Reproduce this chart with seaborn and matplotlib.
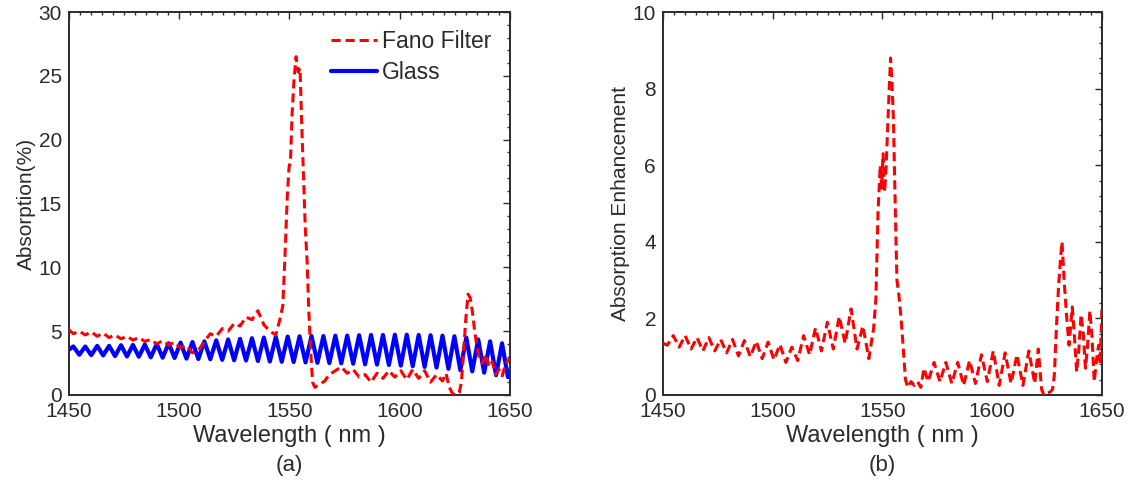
import numpy as np
import pandas as pd
import seaborn as sns
import matplotlib
matplotlib.use("Agg")
import matplotlib.pyplot as plt
from matplotlib.ticker import MultipleLocator

# ---- Absorption of the Fano filter (%) ----
fano_nm = [1450.0, 1452.0, 1454.7, 1457.4, 1460.1, 1462.8, 1465.5, 1468.2, 1470.9, 1473.6,
           1476.3, 1479.0, 1481.7, 1484.4, 1487.1, 1489.8, 1492.5, 1495.2, 1497.9, 1500.6,
           1503.3, 1506.0, 1508.7, 1511.4, 1514.1, 1516.8, 1519.5, 1522.2, 1524.9, 1527.6,
           1530.3, 1533.0, 1535.7, 1538.4, 1541.1, 1543.8, 1545.5, 1547.0, 1548.0, 1549.0,
           1549.8, 1550.5, 1551.2, 1552.0, 1553.0, 1554.0, 1554.8, 1555.6, 1556.4, 1557.2,
           1558.0, 1558.8, 1559.6, 1560.5, 1561.5, 1563.5, 1566.0, 1568.1, 1570.8, 1573.5,
           1576.2, 1578.9, 1581.6, 1584.3, 1587.0, 1589.7, 1592.4, 1595.1, 1597.8, 1600.5,
           1603.2, 1605.9, 1608.6, 1611.3, 1614.0, 1616.7, 1619.4, 1621.0, 1622.5, 1624.0,
           1625.5, 1627.0, 1628.0, 1629.0, 1630.0, 1631.0, 1632.0, 1633.0, 1634.0, 1635.0,
           1636.0, 1637.5, 1639.0, 1640.5, 1642.0, 1643.5, 1645.0, 1646.5, 1648.0, 1650.0]
fano_abs = [5.1, 4.8, 5.0, 4.7, 4.95, 4.6, 4.85, 4.5, 4.7, 4.4,
            4.6, 4.3, 4.5, 4.2, 4.35, 4.0, 4.25, 3.9, 4.15, 3.7,
            3.9, 3.3, 3.5, 4.2, 4.8, 4.6, 5.2, 5.0, 5.6, 5.4,
            6.1, 5.9, 6.6, 5.5, 5.0, 4.7, 5.8, 7.0, 11.0, 15.5,
            17.8, 18.5, 22.0, 24.5, 26.5, 25.3, 25.6, 21.0, 17.0, 13.0,
            10.5, 6.5, 3.5, 1.0, 0.6, 0.8, 1.1, 1.6, 1.9, 2.2,
            1.7, 2.0, 1.4, 1.6, 1.0, 1.7, 1.3, 1.9, 1.4, 1.9,
            1.2, 2.0, 1.3, 1.9, 1.0, 1.6, 1.1, 1.7, 0.6, 0.1,
            0.0, 0.2, 1.0, 3.5, 6.0, 7.9, 7.6, 6.5, 5.0, 3.8,
            3.0, 2.5, 3.2, 2.2, 2.6, 1.6, 2.0, 1.5, 2.4, 2.9]

# ---- Absorption of bare glass (%), fringe maxima and minima ----
glass_nm = [1450.0,
            1452.0, 1454.7, 1457.4, 1460.1, 1462.8, 1465.5, 1468.2, 1470.9, 1473.6, 1476.3,
            1479.0, 1481.7, 1484.4, 1487.1, 1489.8, 1492.5, 1495.2, 1497.9, 1500.6, 1503.3,
            1506.0, 1508.7, 1511.4, 1514.1, 1516.8, 1519.5, 1522.2, 1524.9, 1527.6, 1530.3,
            1533.0, 1535.7, 1538.4, 1541.1, 1543.8, 1546.5, 1549.2, 1551.9, 1554.6, 1557.3,
            1560.0, 1562.7, 1565.4, 1568.1, 1570.8, 1573.5, 1576.2, 1578.9, 1581.6, 1584.3,
            1587.0, 1589.7, 1592.4, 1595.1, 1597.8, 1600.5, 1603.2, 1605.9, 1608.6, 1611.3,
            1614.0, 1616.7, 1619.4, 1622.1, 1624.8, 1627.5, 1630.2, 1632.9, 1635.6, 1638.3,
            1641.0, 1643.7, 1646.4, 1649.1, 1650.0]
glass_abs = [3.55,
             3.80, 3.15, 3.80, 3.12, 3.85, 3.10, 3.85, 3.05, 3.90, 3.02,
             3.92, 3.00, 3.95, 2.95, 4.00, 2.92, 4.05, 2.90, 4.10, 2.85,
             4.15, 2.82, 4.20, 2.80, 4.28, 2.75, 4.35, 2.72, 4.40, 2.70,
             4.45, 2.66, 4.50, 2.62, 4.55, 2.60, 4.58, 2.58, 4.60, 2.55,
             4.62, 2.52, 4.62, 2.50, 4.65, 2.48, 4.65, 2.45, 4.68, 2.40,
             4.70, 2.38, 4.70, 2.35, 4.72, 2.30, 4.72, 2.25, 4.70, 2.20,
             4.68, 2.15, 4.65, 2.05, 4.60, 1.95, 4.50, 1.85, 4.35, 1.75,
             4.20, 1.55, 4.05, 1.40, 1.70]

# ---- Absorption enhancement (Fano filter / glass) ----
enh_nm = [1450.0, 1452.0, 1454.7, 1457.4, 1460.1, 1462.8, 1465.5, 1468.2, 1470.9, 1473.6,
          1476.3, 1479.0, 1481.7, 1484.4, 1487.1, 1489.8, 1492.5, 1495.2, 1497.9, 1500.6,
          1503.3, 1506.0, 1508.7, 1511.4, 1514.1, 1516.8, 1519.5, 1522.2, 1524.9, 1527.6,
          1530.3, 1533.0, 1535.7, 1538.4, 1541.1, 1543.8, 1546.0, 1547.0, 1548.0, 1549.0,
          1549.6, 1550.3, 1551.0, 1551.7, 1552.4, 1553.1, 1553.7, 1554.3, 1555.0, 1555.8,
          1556.6, 1557.5, 1558.5, 1559.5, 1560.5, 1561.5, 1563.0, 1564.5, 1566.0, 1567.5,
          1568.9, 1570.8, 1573.5, 1576.2, 1578.9, 1581.6, 1584.3, 1587.0, 1589.7, 1592.4,
          1595.1, 1597.8, 1600.5, 1603.2, 1605.9, 1608.6, 1611.3, 1614.0, 1616.7, 1619.4,
          1621.0, 1622.5, 1623.5, 1625.0, 1626.5, 1627.5, 1628.3, 1629.3, 1630.3, 1631.2,
          1631.8, 1633.0, 1634.0, 1635.0, 1636.5, 1637.5, 1638.5, 1639.5, 1640.5, 1641.5,
          1642.5, 1643.5, 1644.5, 1645.5, 1646.5, 1647.5, 1648.5, 1649.2, 1650.0]
enh_val = [1.35, 1.30, 1.55, 1.25, 1.55, 1.20, 1.50, 1.15, 1.50, 1.15,
           1.45, 1.10, 1.45, 1.02, 1.42, 1.00, 1.40, 0.95, 1.38, 0.92,
           1.32, 0.85, 1.25, 0.90, 1.55, 1.05, 1.75, 1.15, 1.90, 1.20,
           2.05, 1.35, 2.25, 1.20, 1.80, 0.95, 1.75, 2.50, 4.80, 6.00,
           5.40, 6.30, 5.30, 6.00, 7.00, 8.00, 8.80, 8.20, 7.20, 5.00,
           3.00, 2.60, 2.00, 1.20, 0.40, 0.20, 0.35, 0.25, 0.35, 0.20,
           0.70, 0.35, 0.85, 0.35, 0.85, 0.30, 0.85, 0.25, 0.90, 0.30,
           1.05, 0.35, 1.15, 0.25, 1.10, 0.30, 1.05, 0.25, 1.15, 0.30,
           1.20, 0.15, 0.00, 0.05, 0.08, 0.15, 0.50, 1.80, 2.90, 3.60,
           4.00, 2.80, 2.00, 1.30, 2.30, 1.50, 0.60, 1.20, 2.10, 1.60,
           0.70, 1.30, 2.20, 1.50, 0.35, 0.90, 1.30, 0.80, 2.30]

x_ticks = [1450, 1500, 1550, 1600, 1650]
abs_ticks = [0, 5, 10, 15, 20, 25, 30]
enh_ticks = [0, 2, 4, 6, 8, 10]

RED = "#ff0000"
BLUE = "#0000ff"
INK = "#2b2b2b"

sns.set_theme(style="white")
plt.rcParams["font.family"] = ["Liberation Sans", "DejaVu Sans"]
plt.rcParams["axes.linewidth"] = 1.4
plt.rcParams["axes.edgecolor"] = INK

fig = plt.figure(figsize=(11.36, 4.90), dpi=100)
ax_a = fig.add_axes([0.0607, 0.1939, 0.3882, 0.7816])
ax_b = fig.add_axes([0.5836, 0.1939, 0.3864, 0.7816])

fano_df = pd.DataFrame({"nm": fano_nm, "val": fano_abs})
glass_df = pd.DataFrame({"nm": glass_nm, "val": glass_abs})
enh_df = pd.DataFrame({"nm": enh_nm, "val": enh_val})

sns.lineplot(data=glass_df, x="nm", y="val", ax=ax_a, color=BLUE, lw=3.0,
             estimator=None, sort=False, label="Glass", zorder=2)
sns.lineplot(data=fano_df, x="nm", y="val", ax=ax_a, color=RED, lw=2.2,
             estimator=None, sort=False, label="Fano Filter", zorder=3)
sns.lineplot(data=enh_df, x="nm", y="val", ax=ax_b, color=RED, lw=2.2,
             estimator=None, sort=False, zorder=3)

ax_a.lines[0].set_solid_joinstyle("round")
dash = (3.0, 1.6)
ax_a.lines[1].set_dashes(dash)
ax_b.lines[0].set_dashes(dash)

handles, labels = ax_a.get_legend_handles_labels()
order = [labels.index("Fano Filter"), labels.index("Glass")]
leg = ax_a.legend([handles[i] for i in order], [labels[i] for i in order],
                  loc="upper right", frameon=False, fontsize=16.5,
                  handlelength=2.0, handletextpad=0.25, labelspacing=0.35,
                  borderaxespad=0.5, borderpad=0.3)
for t in leg.get_texts():
    t.set_color(INK)
leg.legend_handles[0].set_dashes(dash)

for ax, yt, ylab, yminor, tag in [
    (ax_a, abs_ticks, "Absorption(%)", 1, "(a)"),
    (ax_b, enh_ticks, "Absorption Enhancement", 0.4, "(b)"),
]:
    ax.set_xlim(x_ticks[0], x_ticks[-1])
    ax.set_ylim(yt[0], yt[-1])
    ax.set_xticks(x_ticks)
    ax.set_yticks(yt)
    ax.xaxis.set_minor_locator(MultipleLocator(5))
    ax.yaxis.set_minor_locator(MultipleLocator(yminor))
    ax.tick_params(which="both", direction="in", top=True, right=True,
                   colors=INK, labelsize=15, width=1.0)
    ax.tick_params(which="major", length=5, pad=5)
    ax.tick_params(which="minor", length=2.5)
    ax.set_xlabel("Wavelength ( nm )", fontsize=17, color=INK, labelpad=3)
    ax.set_ylabel(ylab, fontsize=15, color=INK, labelpad=2)
    ax.text(0.5, -0.183, tag, transform=ax.transAxes, ha="center", va="center",
            fontsize=16, color=INK)
    for s in ax.spines.values():
        s.set_visible(True)

fig.savefig("out.png", dpi=100)
